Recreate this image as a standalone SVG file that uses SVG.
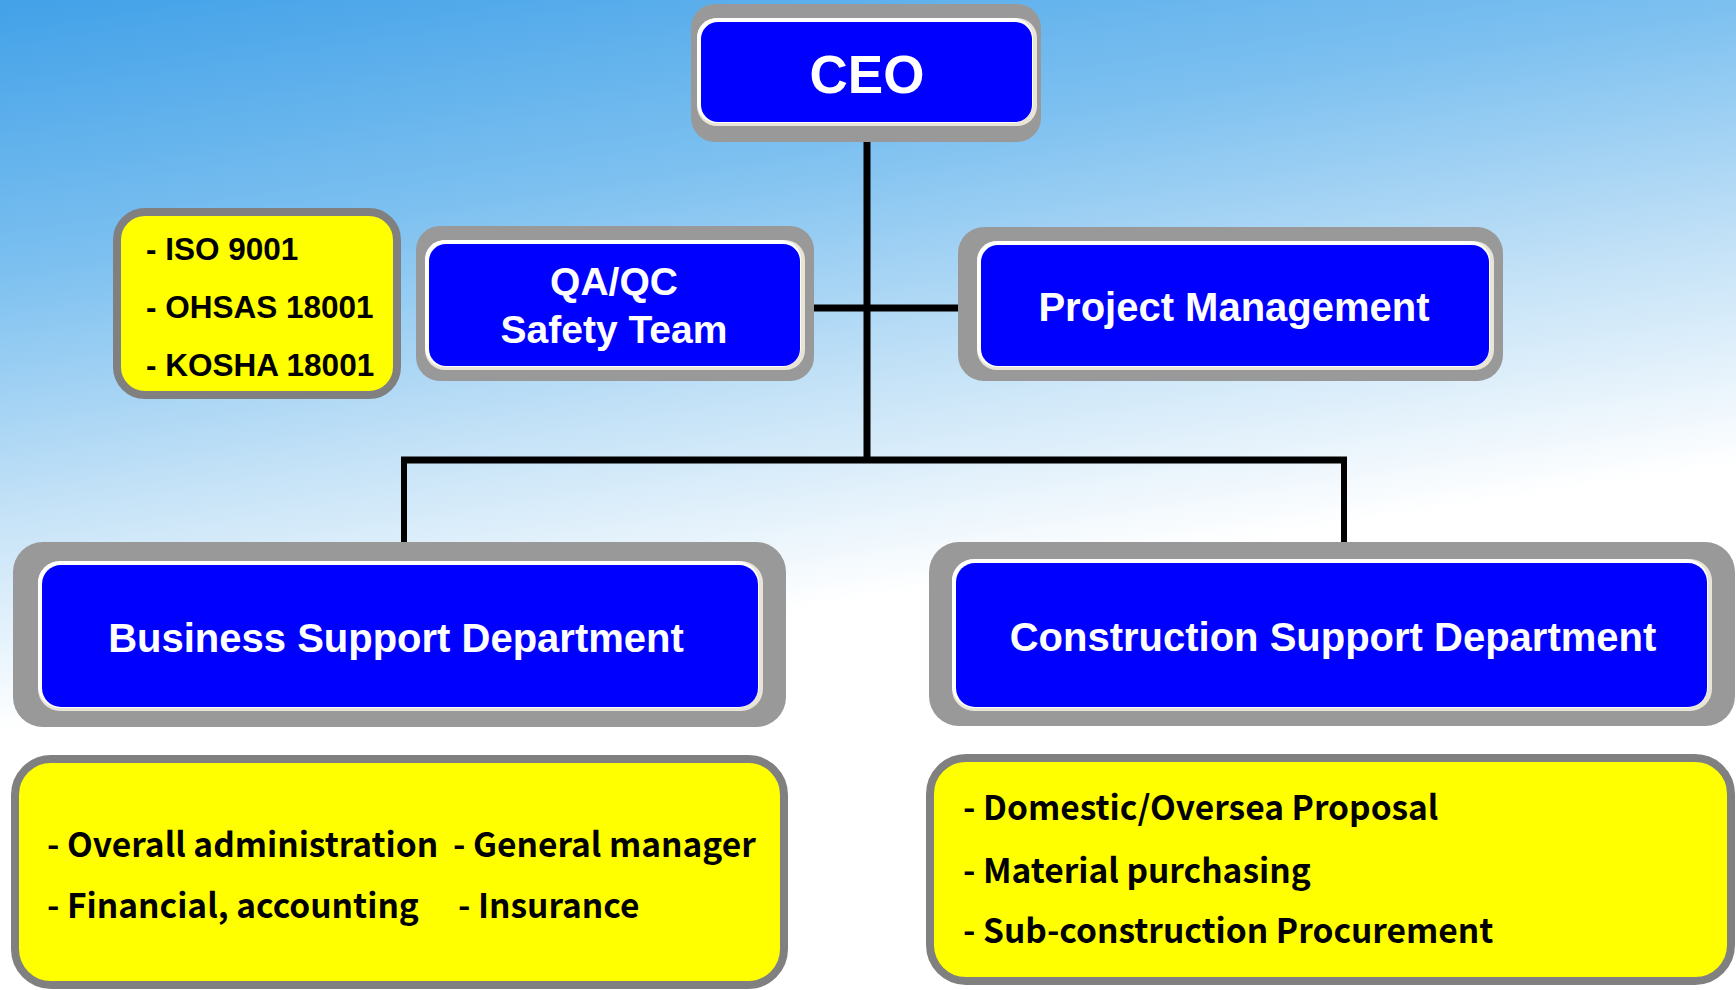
<svg xmlns="http://www.w3.org/2000/svg" width="1736" height="990" viewBox="0 0 1736 990">
  <defs>
    <linearGradient id="sky" gradientUnits="userSpaceOnUse" x1="0" y1="0" x2="110" y2="715">
      <stop offset="0" stop-color="#42a1e8"/>
      <stop offset="0.37" stop-color="#7cc0f0"/>
      <stop offset="0.7" stop-color="#c4e2f7"/>
      <stop offset="1" stop-color="#ffffff"/>
    </linearGradient>
  </defs>
  <style>
    .outer { fill: #999999; }
    .rim { fill: #ffffff; }
    .rim2 { fill: #e8e4d8; }
    .blue { fill: #0000ff; }
    .note { fill: #ffff00; stroke: #808080; stroke-width: 8; }
    .lbl { font-family: "Liberation Sans", Arial, sans-serif; font-weight: bold; fill: #ffffff; text-anchor: middle; }
    .iso { font-family: "Liberation Sans", Arial, sans-serif; font-weight: bold; fill: #000000; font-size: 31.5px; }
    .lst { font-family: "Noto Sans CJK KR", "Noto Sans", sans-serif; font-weight: bold; fill: #000000; font-size: 33.5px; }
    .con { stroke: #000000; fill: none; }
  </style>

  <rect x="0" y="0" width="1736" height="990" fill="url(#sky)"/>

  <g id="connectors" class="con">
    <line x1="867" y1="140" x2="867" y2="460" stroke-width="7"/>
    <line x1="810" y1="308" x2="962" y2="308" stroke-width="7"/>
    <line x1="401" y1="460" x2="1347" y2="460" stroke-width="7"/>
    <line x1="404" y1="460" x2="404" y2="545" stroke-width="6"/>
    <line x1="1344" y1="460" x2="1344" y2="545" stroke-width="6"/>
  </g>

  <g id="ceo">
    <rect class="outer" x="691" y="4" width="350" height="138" rx="24"/>
    <rect class="rim2" x="697" y="18" width="340" height="108" rx="20"/>
    <rect class="rim" x="697" y="18" width="336" height="105" rx="20"/>
    <rect class="blue" x="701" y="22" width="331" height="100" rx="17"/>
    <text class="lbl" x="867" y="93" font-size="53">CEO</text>
  </g>

  <g id="iso-note">
    <rect class="note" x="117" y="212" width="280" height="183" rx="28"/>
    <text class="iso" x="146" y="260">- ISO 9001</text>
    <text class="iso" x="146" y="318">- OHSAS 18001</text>
    <text class="iso" x="146" y="376">- KOSHA 18001</text>
  </g>

  <g id="qaqc">
    <rect class="outer" x="416" y="226" width="398" height="155" rx="24"/>
    <rect class="rim2" x="425" y="240" width="380" height="130" rx="20"/>
    <rect class="rim" x="425" y="240" width="376" height="127" rx="20"/>
    <rect class="blue" x="429" y="244" width="371" height="122" rx="17"/>
    <text class="lbl" x="614" y="295" font-size="39">QA/QC</text>
    <text class="lbl" x="614" y="343" font-size="39">Safety Team</text>
  </g>

  <g id="project-management">
    <rect class="outer" x="958" y="227" width="545" height="154" rx="26"/>
    <rect class="rim2" x="977" y="241" width="517" height="129" rx="20"/>
    <rect class="rim" x="977" y="241" width="513" height="126" rx="20"/>
    <rect class="blue" x="981" y="245" width="508" height="121" rx="17"/>
    <text class="lbl" x="1234" y="321" font-size="40">Project Management</text>
  </g>

  <g id="business-support">
    <rect class="outer" x="13" y="542" width="773" height="185" rx="30"/>
    <rect class="rim2" x="38" y="561" width="725" height="150" rx="22"/>
    <rect class="rim" x="38" y="561" width="721" height="147" rx="22"/>
    <rect class="blue" x="42" y="565" width="716" height="142" rx="19"/>
    <text class="lbl" x="396" y="652" font-size="40">Business Support Department</text>
  </g>

  <g id="construction-support">
    <rect class="outer" x="929" y="542" width="806" height="184" rx="30"/>
    <rect class="rim2" x="952" y="559" width="760" height="152" rx="22"/>
    <rect class="rim" x="952" y="559" width="756" height="149" rx="22"/>
    <rect class="blue" x="956" y="563" width="751" height="144" rx="19"/>
    <text class="lbl" x="1333" y="651" font-size="40">Construction Support Department</text>
  </g>

  <g id="business-tasks">
    <rect class="note" x="15" y="759" width="769" height="226" rx="36"/>
    <text class="lst" x="47" y="857">- Overall administration</text>
    <text class="lst" x="453" y="857">- General manager</text>
    <text class="lst" x="47" y="918">- Financial, accounting</text>
    <text class="lst" x="458" y="918">- Insurance</text>
  </g>

  <g id="construction-tasks">
    <rect class="note" x="930" y="758" width="801" height="223" rx="36"/>
    <text class="lst" x="963" y="820">- Domestic/Oversea Proposal</text>
    <text class="lst" x="963" y="883">- Material purchasing</text>
    <text class="lst" x="963" y="943">- Sub-construction Procurement</text>
  </g>
</svg>
